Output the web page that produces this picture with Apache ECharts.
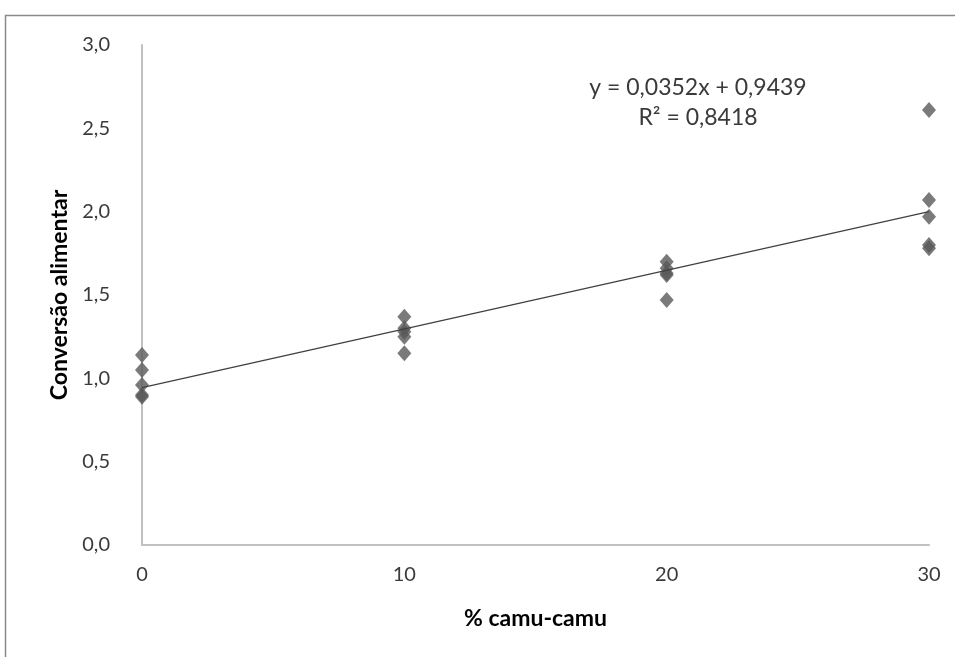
<!DOCTYPE html>
<html>
<head>
<meta charset="utf-8">
<script src="https://cdn.jsdelivr.net/npm/echarts@6/dist/echarts.min.js"></script>
<style>html,body{margin:0;padding:0;background:#fff}#c{width:955px;height:657px}</style>
</head>
<body>
<div id="c"></div>
<script>
// Data
var x0 = [0, 0, 0, 0, 0];
var y0 = [1.14, 1.05, 0.96, 0.90, 0.89];
var x10 = [10, 10, 10, 10, 10];
var y10 = [1.37, 1.30, 1.28, 1.25, 1.15];
var x20 = [20, 20, 20, 20, 20];
var y20 = [1.70, 1.66, 1.63, 1.62, 1.47];
var x30 = [30, 30, 30, 30, 30];
var y30 = [2.61, 2.07, 1.97, 1.80, 1.78];
var xTicks = [0, 10, 20, 30];
var yTicks = [0, 0.5, 1.0, 1.5, 2.0, 2.5, 3.0];
var trendSlope = [0.0352];
var trendIntercept = [0.9439];
var trendR2 = [0.8418];
var trendRange = [0, 30];

var xs = x0.concat(x10, x20, x30);
var ys = y0.concat(y10, y20, y30);
var points = xs.map(function (x, i) { return [x, ys[i]]; });
var trend = trendRange.map(function (x) { return [x, trendSlope[0] * x + trendIntercept[0]]; });

function fmt(v, d) { return v.toFixed(d).replace('.', ','); }

var font = 'Lato, "Open Sans", sans-serif';
var chart = echarts.init(document.getElementById('c'), null, { renderer: 'canvas' });
chart.setOption({
  animation: false,
  backgroundColor: '#ffffff',
  grid: { left: 142, right: 26, top: 45, bottom: 112 },
  xAxis: {
    type: 'value', min: xTicks[0], max: xTicks[xTicks.length - 1], interval: 10,
    name: '% camu-camu', nameLocation: 'middle', nameGap: 62,
    nameTextStyle: { fontFamily: font, fontWeight: 'bold', fontSize: 23, color: '#000' },
    axisLine: { show: true, lineStyle: { color: '#c0c0c0', width: 2 } },
    axisTick: { show: false },
    splitLine: { show: false },
    axisLabel: { fontFamily: font, fontSize: 20, color: '#3a3a3a', margin: 20 }
  },
  yAxis: {
    type: 'value', min: yTicks[0], max: yTicks[yTicks.length - 1], interval: 0.5,
    name: 'Conversão alimentar', nameLocation: 'middle', nameGap: 69, nameRotate: 90,
    nameTextStyle: { fontFamily: font, fontWeight: 'bold', fontSize: 23, color: '#000' },
    axisLine: { show: true, lineStyle: { color: '#c0c0c0', width: 2 } },
    axisTick: { show: false },
    splitLine: { show: false },
    axisLabel: { fontFamily: font, fontSize: 20, color: '#3a3a3a', margin: 32,
      formatter: function (v) { return fmt(v, 1); } }
  },
  series: [
    {
      type: 'line', data: trend, showSymbol: false, symbol: 'none',
      lineStyle: { color: '#404040', width: 1.2 }, z: 3
    },
    {
      type: 'scatter', data: points, symbol: 'diamond', symbolSize: [14, 16],
      itemStyle: { color: '#595959' }, z: 2
    }
  ],
  graphic: [
    { type: 'rect', shape: { x: 5.5, y: 15.5, width: 1000, height: 1000 },
      style: { fill: 'none', stroke: '#8a8a8a', lineWidth: 1.5 }, silent: true, z: -10 },
    { type: 'text', x: 698, y: 88,
      style: { text: 'y = ' + fmt(trendSlope[0], 4) + 'x + ' + fmt(trendIntercept[0], 4),
        fontFamily: font, fontSize: 23, fill: '#3a3a3a', align: 'center', verticalAlign: 'middle' } },
    { type: 'text', x: 698, y: 118,
      style: { text: 'R² = ' + fmt(trendR2[0], 4), fontFamily: font, fontSize: 23, fill: '#3a3a3a',
        align: 'center', verticalAlign: 'middle' } }
  ]
});
</script>
</body>
</html>
